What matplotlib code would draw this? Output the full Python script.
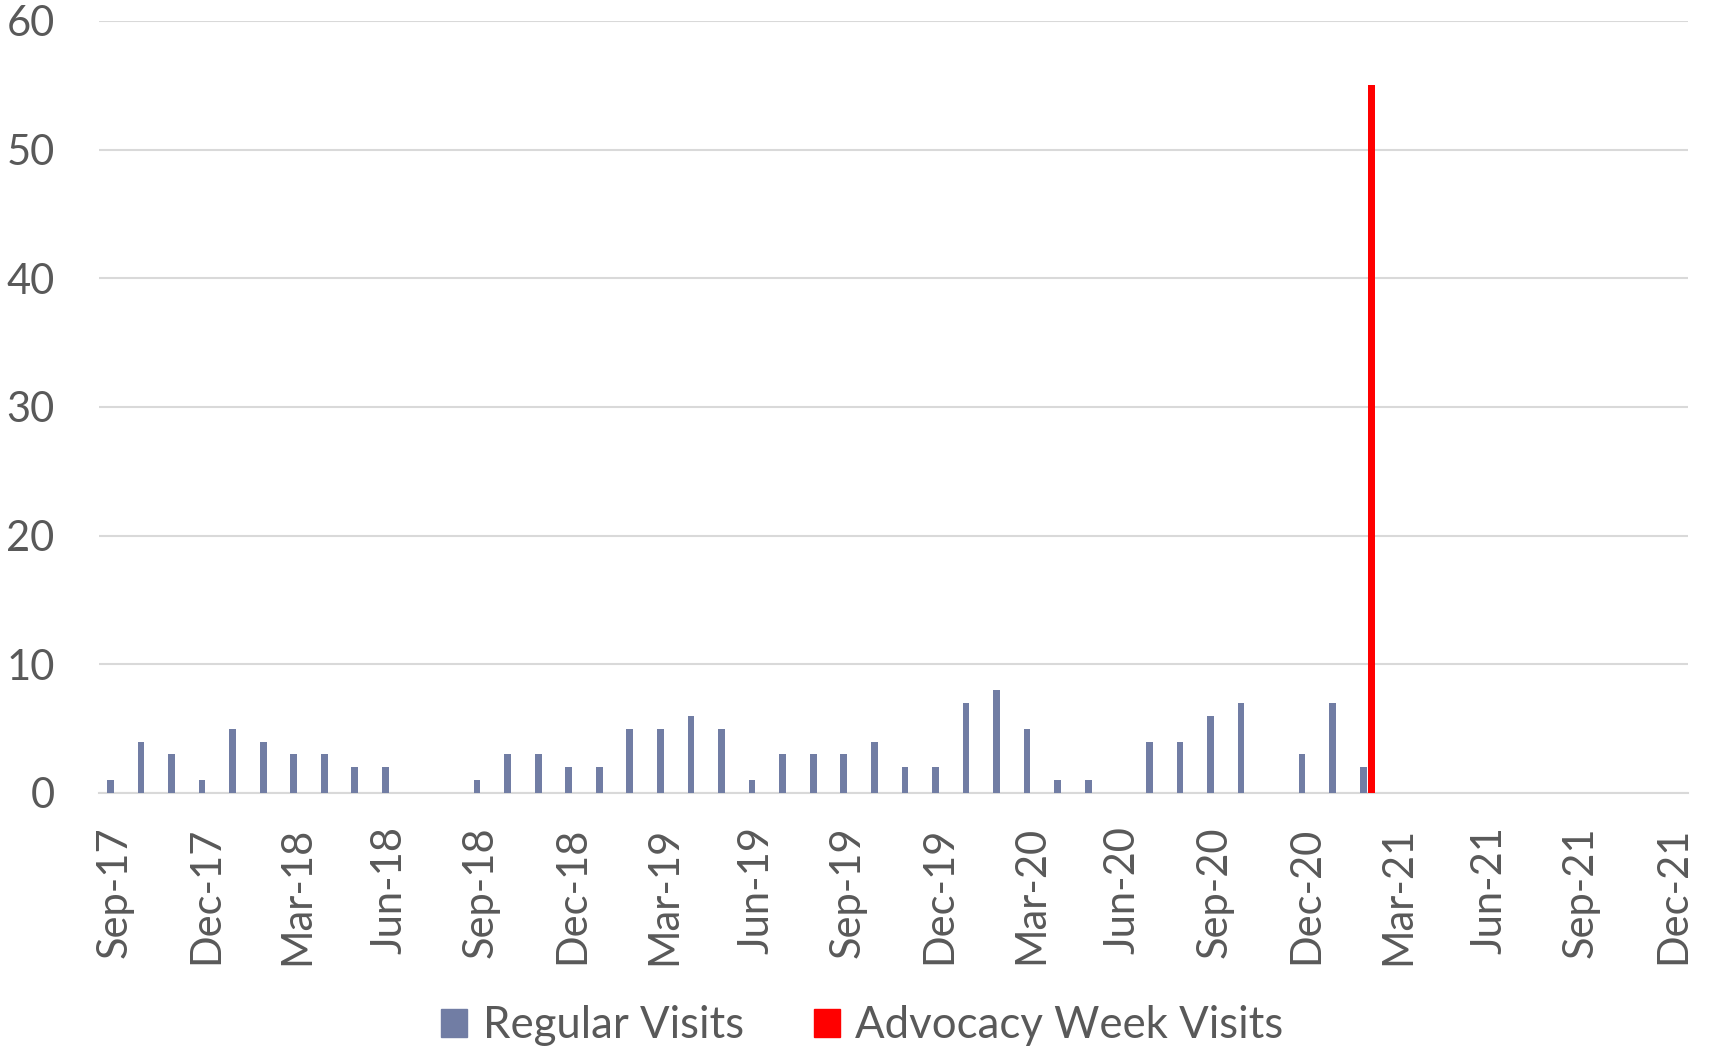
import numpy as np
import matplotlib.pyplot as plt
from matplotlib.patches import Patch

plt.rcParams['font.family'] = ['Lato', 'DejaVu Sans']

# monthly slots Sep-17 .. Dec-21
months = ['Sep-17', 'Oct-17', 'Nov-17', 'Dec-17', 'Jan-18', 'Feb-18', 'Mar-18', 'Apr-18',
          'May-18', 'Jun-18', 'Jul-18', 'Aug-18', 'Sep-18', 'Oct-18', 'Nov-18', 'Dec-18',
          'Jan-19', 'Feb-19', 'Mar-19', 'Apr-19', 'May-19', 'Jun-19', 'Jul-19', 'Aug-19',
          'Sep-19', 'Oct-19', 'Nov-19', 'Dec-19', 'Jan-20', 'Feb-20', 'Mar-20', 'Apr-20',
          'May-20', 'Jun-20', 'Jul-20', 'Aug-20', 'Sep-20', 'Oct-20', 'Nov-20', 'Dec-20',
          'Jan-21', 'Feb-21', 'Mar-21', 'Apr-21', 'May-21', 'Jun-21', 'Jul-21', 'Aug-21',
          'Sep-21', 'Oct-21', 'Nov-21', 'Dec-21']

regular = [1, 4, 3, 1, 5, 4, 3, 3, 2, 2, 0, 0,
           1, 3, 3, 2, 2, 5, 5, 6, 5, 1, 3, 3,
           3, 4, 2, 2, 7, 8, 5, 1, 1, 0, 4, 4,
           6, 7, 0, 3, 7, 2, 0, 0, 0, 0, 0, 0,
           0, 0, 0, 0]

advocacy = [0] * 41 + [55] + [0] * 10

tick_labels = months[::3]

x = np.arange(len(months))

fig = plt.figure(figsize=(17.11, 10.46), dpi=100)
ax = fig.add_axes([0.0579, 0.2419, 0.9287, 0.7381])

blue = '#717DA4'
red = '#FF0000'
ax.bar(x - 0.13, regular, width=0.22, color=blue, zorder=3)
ax.bar(x + 0.13, advocacy, width=0.22, color=red, zorder=3)

ax.set_xlim(-0.5, len(months) - 0.5)
ax.set_ylim(0, 60)
ax.set_yticks(range(0, 61, 10))
ax.set_xticks(x[::3])
ax.set_xticklabels(tick_labels, rotation=90)

ax.grid(axis='y', color='#D9D9D9', linewidth=1.5, zorder=0)
for s in ['top', 'left', 'right']:
    ax.spines[s].set_visible(False)
ax.spines['bottom'].set_color('#D9D9D9')
ax.spines['bottom'].set_linewidth(1.5)

ax.tick_params(axis='both', length=0, labelsize=30, labelcolor='#595959')
ax.tick_params(axis='y', pad=32)
ax.tick_params(axis='x', pad=24)

handles = [Patch(color=blue, label='Regular Visits'),
           Patch(color=red, label='Advocacy Week Visits')]
fig.legend(handles=handles, loc='lower center', bbox_to_anchor=(0.504, -0.038), ncol=2,
           frameon=False, fontsize=31.5, labelcolor='#595959', handlelength=0.6,
           handleheight=0.6, handletextpad=0.35, columnspacing=1.6)

fig.savefig('out.png', dpi=100)
